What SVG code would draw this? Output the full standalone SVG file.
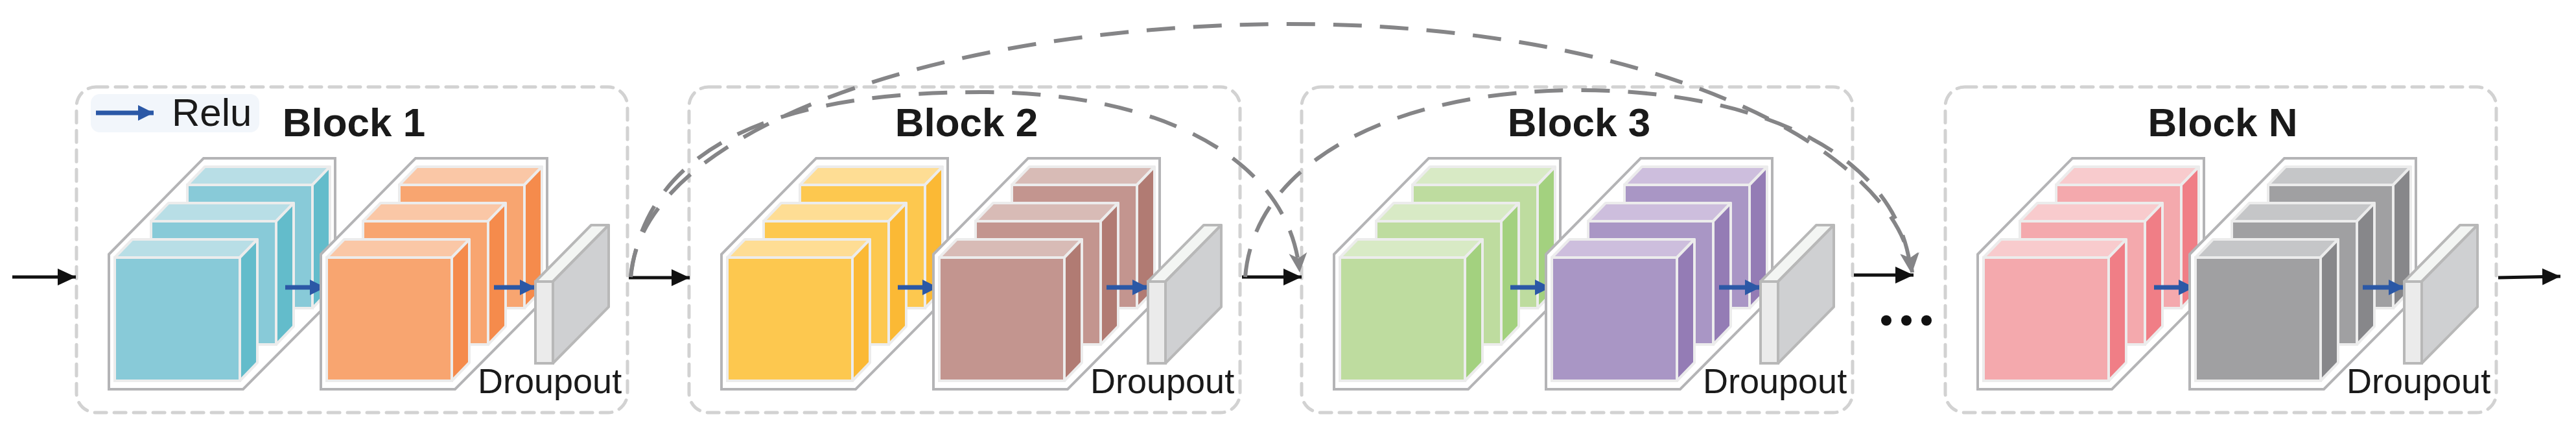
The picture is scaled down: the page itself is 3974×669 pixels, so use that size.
<svg xmlns="http://www.w3.org/2000/svg" xmlns:xlink="http://www.w3.org/1999/xlink" width="3974" height="669" viewBox="0 0 3974 669">
<style>
.box{fill:none;stroke:#d2d2d2;stroke-width:5;stroke-dasharray:18 12;stroke-linecap:round}
.title{font-family:"Liberation Sans",Arial,sans-serif;font-weight:bold;font-size:62px;fill:#1a1a1a;text-anchor:middle}
.drop{font-family:"Liberation Sans",Arial,sans-serif;font-size:54px;fill:#1a1a1a}
.frame{fill:#fff;stroke:#b4b4b6;stroke-width:4}
.fr{fill:var(--f);stroke:#ececec;stroke-width:4}
.tp{fill:var(--t);stroke:#ececec;stroke-width:4;stroke-linejoin:round}
.sd{fill:var(--s);stroke:#ececec;stroke-width:4;stroke-linejoin:round}
.relu{stroke:#2b58a6;stroke-width:7;fill:none}
.flow{stroke:#111;stroke-width:5;fill:none}
.skip{stroke:#858587;stroke-width:6;fill:none;stroke-dasharray:44 28}
.pf{fill:#ebebeb;stroke:#b8b8b8;stroke-width:4}
.pt{fill:#f3f5f3;stroke:#b8b8b8;stroke-width:4;stroke-linejoin:round}
.ps{fill:#cfd0d2;stroke:#b8b8b8;stroke-width:4;stroke-linejoin:round}
</style>
<defs>
<marker id="ab" markerUnits="userSpaceOnUse" markerWidth="30" markerHeight="30" refX="28" refY="15" orient="auto"><path d="M0,2 L28,15 L0,28 Z" fill="#111"/></marker>
<marker id="ar" markerUnits="userSpaceOnUse" markerWidth="26" markerHeight="26" refX="24" refY="13" orient="auto"><path d="M0,1 L24,13 L0,25 Z" fill="#2b58a6"/></marker>
<marker id="ag" markerUnits="userSpaceOnUse" markerWidth="34" markerHeight="34" refX="30" refY="17" orient="auto"><path d="M0,3 L30,17 L0,31 L8,17 Z" fill="#858587"/></marker>
<g id="cube">
<rect class="fr" x="0" y="0" width="193" height="190"/>
<polygon class="tp" points="0,0 27,-28 220,-28 193,0"/>
<polygon class="sd" points="193,0 220,-28 220,162 193,190"/>
</g>
<g id="stack">
<polygon class="frame" points="168,392 314,244 517,244 517,457 375,600 168,600"/>
<use xlink:href="#cube" x="289" y="285"/>
<use xlink:href="#cube" x="233" y="341"/>
<use xlink:href="#cube" x="177" y="397"/>
</g>
<g id="plate">
<rect class="pf" x="826" y="434" width="27" height="126"/>
<polygon class="pt" points="826,434 853,434 939,347 912,347"/>
<polygon class="ps" points="853,434 939,347 939,473 853,560"/>
</g>
</defs>

<g id="block1">
<rect class="box" x="118" y="134" width="850" height="502" rx="30"/>
<rect x="140" y="145" width="260" height="59" rx="14" fill="#f2f6fb"/>
<line class="relu" x1="148" y1="174" x2="237" y2="174" marker-end="url(#ar)"/>
<text x="265" y="194" font-family="'Liberation Sans',Arial,sans-serif" font-size="60" fill="#1a1a1a">Relu</text>
<text class="title" x="546" y="210">Block 1</text>
<use xlink:href="#stack" style="--f:#88cad8;--t:#b8dee6;--s:#63bccb"/>
<line class="relu" x1="440" y1="443" x2="502" y2="443" marker-end="url(#ar)"/>
<use xlink:href="#stack" x="327" style="--f:#f8a570;--t:#fac7a6;--s:#f58b4c"/>
<line class="relu" x1="762" y1="443" x2="826" y2="443" marker-end="url(#ar)"/>
<use xlink:href="#plate"/>
<text class="drop" x="737" y="606">Droupout</text>
</g>

<g id="block2" transform="translate(945,0)">
<rect class="box" x="118" y="134" width="850" height="502" rx="30"/>
<text class="title" x="546" y="210">Block 2</text>
<use xlink:href="#stack" style="--f:#fdc84f;--t:#fedd94;--s:#fbb935"/>
<line class="relu" x1="440" y1="443" x2="502" y2="443" marker-end="url(#ar)"/>
<use xlink:href="#stack" x="327" style="--f:#c3958f;--t:#d8bbb6;--s:#b17b73"/>
<line class="relu" x1="762" y1="443" x2="826" y2="443" marker-end="url(#ar)"/>
<use xlink:href="#plate"/>
<text class="drop" x="737" y="606">Droupout</text>
</g>

<g id="block3" transform="translate(1890,0)">
<rect class="box" x="118" y="134" width="850" height="502" rx="30"/>
<text class="title" x="546" y="210">Block 3</text>
<use xlink:href="#stack" style="--f:#bedc9f;--t:#d8eac5;--s:#a3d17f"/>
<line class="relu" x1="440" y1="443" x2="502" y2="443" marker-end="url(#ar)"/>
<use xlink:href="#stack" x="327" style="--f:#a996c5;--t:#cdbedd;--s:#947cb5"/>
<line class="relu" x1="762" y1="443" x2="826" y2="443" marker-end="url(#ar)"/>
<use xlink:href="#plate"/>
<text class="drop" x="737" y="606">Droupout</text>
</g>

<g id="blockN" transform="translate(2883,0)">
<rect class="box" x="118" y="134" width="850" height="502" rx="30"/>
<text class="title" x="546" y="210">Block N</text>
<use xlink:href="#stack" style="--f:#f4a9ad;--t:#f8cbcd;--s:#f07e86"/>
<line class="relu" x1="440" y1="443" x2="502" y2="443" marker-end="url(#ar)"/>
<use xlink:href="#stack" x="327" style="--f:#a0a0a2;--t:#c5c6c8;--s:#87878a"/>
<line class="relu" x1="762" y1="443" x2="826" y2="443" marker-end="url(#ar)"/>
<use xlink:href="#plate"/>
<text class="drop" x="737" y="606">Droupout</text>
</g>

<g id="ellipsis" fill="#111">
<circle cx="2910" cy="494" r="8"/>
<circle cx="2941" cy="494" r="8"/>
<circle cx="2972" cy="494" r="8"/>
</g>

<g id="connectors">
<line class="flow" x1="19" y1="427" x2="117" y2="427" marker-end="url(#ab)"/>
<line class="flow" x1="970" y1="428" x2="1064" y2="428" marker-end="url(#ab)"/>
<line class="flow" x1="1916" y1="427" x2="2008" y2="427" marker-end="url(#ab)"/>
<line class="flow" x1="2860" y1="424" x2="2952" y2="424" marker-end="url(#ab)"/>
<line class="flow" x1="3854" y1="428" x2="3950" y2="426" marker-end="url(#ab)"/>
<path class="skip" d="M973,427 C990,200 1450,40 1980,37 C2550,35 2930,230 2950,420" marker-end="url(#ag)"/>
<path class="skip" d="M973,427 C1000,200 1250,142 1512,142 C1800,142 1990,250 2005,420" marker-end="url(#ag)"/>
<path class="skip" d="M1921,427 C1935,250 2150,139 2436,139 C2700,139 2930,230 2948,420" marker-end="url(#ag)"/>
</g>
</svg>
